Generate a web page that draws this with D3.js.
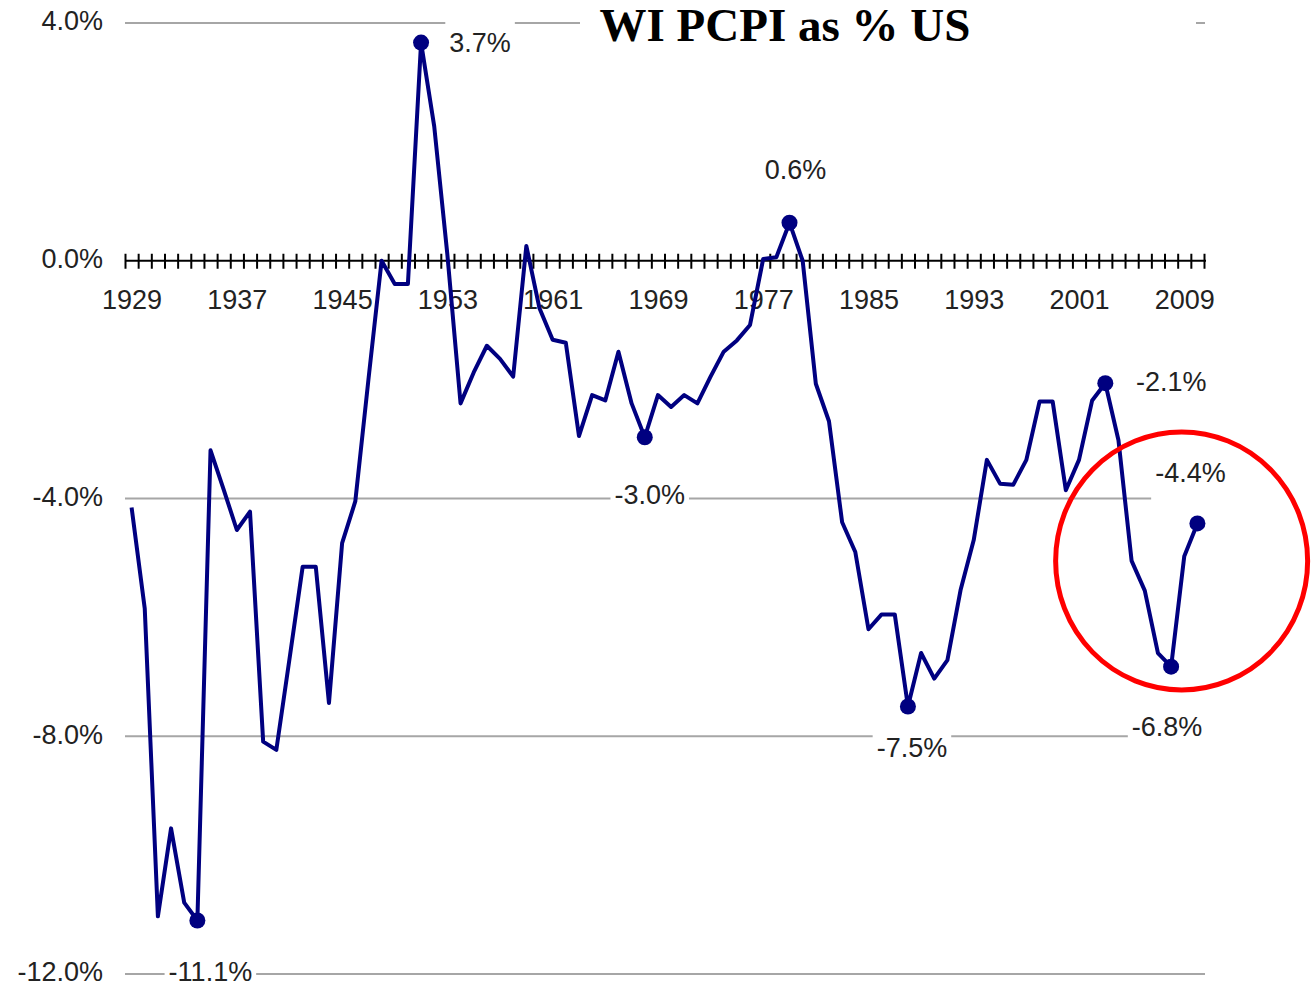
<!DOCTYPE html>
<html lang="en">
<head>
    <meta charset="UTF-8">
    <title>WI PCPI as % US</title>
    <script src="https://d3js.org/d3.v7.min.js"></script>
    <style>
        body {
            margin: 0;
            background: #fff;
        }
        .tick-label, .data-label {
            font-family: "Liberation Sans", Arial, sans-serif;
            font-size: 27px;
            fill: #222;
        }
        .title {
            font-family: "Liberation Serif", "Times New Roman", serif;
            font-weight: bold;
            font-size: 47px;
            fill: #000;
        }
        .grid {
            stroke: #a6a6a6;
            stroke-width: 2px;
        }
        .line {
            fill: none;
            stroke: #000080;
            stroke-width: 4px;
            stroke-linejoin: round;
        }
    </style>
</head>
<body>
    <div id="chart"></div>

    <script>
        // Years shown on the chart (one point per year)
        const years = d3.range(1929, 2011);

        // WI per capita personal income, % difference vs US
        const pcpiGap = [
            -4.15, -5.85, -11.03, -9.55, -10.8, -11.1, -3.19, -3.85, -4.53, -4.22,   // 1929-1938
            -8.09, -8.23, -6.7, -5.15, -5.15, -7.44, -4.75, -4.05, -2.0, 0.0,        // 1939-1948
            -0.39, -0.39, 3.67, 2.26, 0.1, -2.4, -1.88, -1.43, -1.65, -1.95,        // 1949-1958
            0.25, -0.8, -1.33, -1.38, -2.95, -2.26, -2.35, -1.53, -2.4, -2.97,      // 1959-1968
            -2.26, -2.46, -2.26, -2.4, -1.95, -1.53, -1.34, -1.08, 0.03, 0.06,      // 1969-1978
            0.64, 0.0, -2.07, -2.7, -4.4, -4.9, -6.2, -5.95, -5.95, -7.5,           // 1979-1988
            -6.6, -7.03, -6.72, -5.54, -4.7, -3.35, -3.75, -3.77, -3.35, -2.37,     // 1989-1998
            -2.37, -3.86, -3.35, -2.35, -2.06, -3.02, -5.05, -5.55, -6.6, -6.83,    // 1999-2008
            -4.97, -4.42                                                            // 2009-2010
        ];

        // Highlighted points and their labels
        const markedYears  = [1934, 1951, 1968, 1979, 1988, 2003, 2008, 2010];
        const markedLabels = ["-11.1%", "3.7%", "-3.0%", "0.6%", "-7.5%", "-2.1%", "-6.8%", "-4.4%"];

        // Axis ticks
        const xLabelYears = d3.range(1929, 2010, 8);
        const yTicks = [4, 0, -4, -8, -12];
        const gridValues = [4, -4, -8, -12];

        // Where the red annotation ring is centred
        const ringYear = 2008.8, ringValue = -5.05;

        const data = years.map((yr, i) => ({ year: yr, value: pcpiGap[i] }));

        const width = 1312, height = 987;

        // label offsets from their marker (px)
        const labelOffset = {
            1934: [13, 52], 1951: [59, 1], 1968: [5, 59], 1979: [6, -52],
            1988: [4, 42], 2003: [66, 0], 2008: [-4, 61], 2010: [-7, -50]
        };

        const svg = d3.select("#chart")
                      .append("svg")
                      .attr("width", width)
                      .attr("height", height);

        const x = d3.scaleLinear().domain([1928.5, 2010.5]).range([125, 1204]);
        const y = d3.scaleLinear().domain([-12, 4]).range([974, 23]);

        // Gridlines
        svg.append("g")
           .selectAll("line")
           .data(gridValues)
           .join("line")
           .attr("class", "grid")
           .attr("x1", x(1928.5))
           .attr("x2", x(2010.5) + 1)
           .attr("y1", d => y(d))
           .attr("y2", d => y(d));

        // Y axis labels
        const yAxis = svg.append("g")
           .attr("transform", `translate(${x(1928.5)},0)`)
           .call(d3.axisLeft(y).tickValues(yTicks).tickSize(0).tickPadding(22)
                 .tickFormat(d => d.toFixed(1) + "%"));
        yAxis.select(".domain").remove();
        yAxis.selectAll("text")
             .attr("class", "tick-label")
             .attr("font-family", null).attr("font-size", null)
             .attr("dy", "0.25em");

        // X axis: line at zero with crossing ticks between years
        svg.append("line")
           .attr("x1", x(1928.5)).attr("x2", x(2010.5) + 2)
           .attr("y1", y(0)).attr("y2", y(0))
           .attr("stroke", "#000").attr("stroke-width", 2);

        const tickAxis = svg.append("g")
           .attr("transform", `translate(0,${y(0) - 7})`)
           .call(d3.axisBottom(x).tickValues(d3.range(1928.5, 2011, 1)).tickSize(15).tickFormat(""));
        tickAxis.select(".domain").remove();
        tickAxis.selectAll("line").attr("stroke", "#000").attr("stroke-width", 2);

        const labelAxis = svg.append("g")
           .attr("transform", `translate(0,${y(0)})`)
           .call(d3.axisBottom(x).tickValues(xLabelYears).tickSize(0).tickPadding(29)
                 .tickFormat(d3.format("d")));
        labelAxis.select(".domain").remove();
        labelAxis.selectAll("text").attr("class", "tick-label").attr("font-family", null).attr("font-size", null);

        // Data line
        const line = d3.line()
                       .x(d => x(d.year))
                       .y(d => y(d.value));

        svg.append("path")
           .datum(data)
           .attr("class", "line")
           .attr("d", line);

        // Markers
        const marked = markedYears.map((yr, i) => ({
            year: yr,
            value: pcpiGap[years.indexOf(yr)],
            label: markedLabels[i]
        }));

        svg.append("g")
           .selectAll("circle")
           .data(marked)
           .join("circle")
           .attr("cx", d => x(d.year))
           .attr("cy", d => y(d.value))
           .attr("r", 8)
           .attr("fill", "#000080");

        // Data labels with white boxes (they hide the gridlines behind them)
        const labels = svg.append("g")
           .selectAll("g")
           .data(marked)
           .join("g")
           .attr("transform", d => `translate(${x(d.year) + labelOffset[d.year][0]},${y(d.value) + labelOffset[d.year][1]})`);

        labels.append("rect").attr("fill", "#fff");
        labels.append("text")
              .attr("class", "data-label")
              .attr("text-anchor", "middle")
              .attr("dy", "0.3em")
              .text(d => d.label);
        labels.each(function() {
            const bb = d3.select(this).select("text").node().getBBox();
            d3.select(this).select("rect")
              .attr("x", bb.x - 4).attr("width", bb.width + 8)
              .attr("y", -28).attr("height", 56);
        });

        // Title
        svg.append("rect")
           .attr("x", 580).attr("y", 4)
           .attr("width", 616).attr("height", 42)
           .attr("fill", "#fff");
        svg.append("text")
           .attr("class", "title")
           .attr("x", 785)
           .attr("y", 41)
           .attr("text-anchor", "middle")
           .text("WI PCPI as % US");

        // Red annotation ring around the latest years
        svg.append("ellipse")
           .attr("cx", x(ringYear))
           .attr("cy", y(ringValue))
           .attr("rx", 126)
           .attr("ry", 129)
           .attr("fill", "none")
           .attr("stroke", "#ff0000")
           .attr("stroke-width", 5);
    </script>
</body>
</html>
